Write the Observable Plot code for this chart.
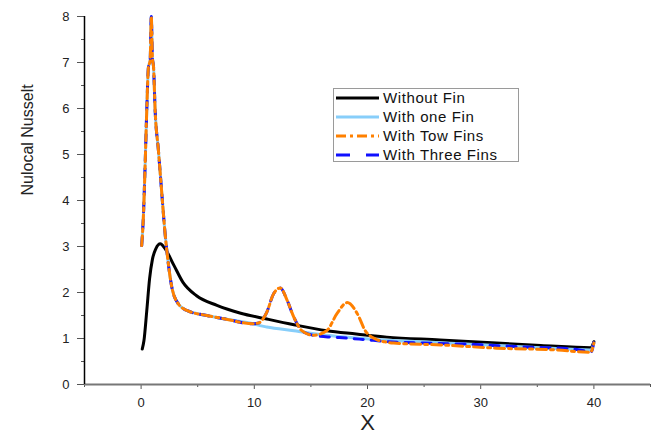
<!DOCTYPE html>
<html><head><meta charset="utf-8">
<script src="https://cdn.jsdelivr.net/npm/d3@7"></script>
<script src="https://cdn.jsdelivr.net/npm/@observablehq/plot@0.6"></script>
<style>
body{margin:0;background:#fff;}
#wrap{position:relative;width:661px;height:441px;}
#legend{position:absolute;left:333px;top:88px;width:186px;height:74px;border:1px solid #9a9a9a;background:#fff;box-sizing:border-box;}
#legend svg{overflow:visible;}
</style></head><body><div id="wrap"></div>
<script>
// ---- data ----
const seriesNames = ["Without Fin", "With one Fin", "With Tow Fins", "With Three Fins"];
const seriesColors = ["#000000", "#87cefa", "#ff8000", "#1010ff"];
const seriesDash = [null, null, "10,4,3,4", "9,8"];

const withoutX = [0.1,0.25,0.5,0.75,1.0,1.3,1.7,2.1,2.9,3.7,4.9,6.7,8.8,11,13.5,16.4,19,21.7,26.4,31.4,35.3,39.7,40];
const withoutY = [0.77,0.95,1.6,2.3,2.72,2.95,3.06,2.96,2.59,2.22,1.93,1.72,1.55,1.43,1.3,1.17,1.1,1.03,0.97,0.9,0.85,0.8,0.93];

const finStartX = [0.05,0.2,0.35,0.5,0.65,0.8,0.9,1.0,1.1,1.24,1.53,1.83,2.12,2.41,2.71,3.3,4.04,5.8,7.3,9.9];
const finStartY = [3.02,3.64,4.72,5.96,6.9,7.04,8.0,7.1,6.9,5.96,5.09,4.15,3.28,2.62,2.12,1.75,1.61,1.5,1.43,1.32];

const oneFinTailX = [10.5,11.1,13.5,16.4,19,21.7,26.4,31.4,35.3,39.7,40];
const oneFinTailY = [1.28,1.25,1.17,1.07,1.01,0.96,0.91,0.85,0.80,0.75,0.9];

const bumpX = [10.4,11.1,11.7,12.3,12.9,13.5,14.2,15.2];
const bumpY = [1.34,1.57,1.97,2.1,1.83,1.46,1.17,1.07];

const twoFinTailX = [16.4,17.3,18.2,19.1,19.8,20.7,21.7,22.3,26.5,31.4,36.8,39.7,40];
const twoFinTailY = [1.17,1.54,1.78,1.54,1.17,0.99,0.92,0.90,0.86,0.79,0.75,0.70,0.9];

const threeFinTailX = [16.8,17.5,19.6,21.9,24.9,29.5,31.1,34.4,37.9,39.8,40];
const threeFinTailY = [1.03,1.02,0.98,0.93,0.90,0.87,0.85,0.81,0.78,0.72,0.94];

const xTicks = [0,10,20,30,40];
const xMinorTicks = [-5,5,15,25,35,45];
const yTicks = [0,1,2,3,4,5,6,7,8];
const yMinorTicks = [0.5,1.5,2.5,3.5,4.5,5.5,6.5,7.5];

// ---- build tables ----
const pts = (xs, ys) => xs.map((x, i) => ({x, y: ys[i]}));
const lines = [
  pts(withoutX, withoutY),
  pts(finStartX.concat(oneFinTailX), finStartY.concat(oneFinTailY)),
  pts(finStartX.concat(bumpX, twoFinTailX), finStartY.concat(bumpY, twoFinTailY)),
  pts(finStartX.concat(bumpX, threeFinTailX), finStartY.concat(bumpY, threeFinTailY))
];
const drawOrder = [0, 1, 3, 2];

const chart = Plot.plot({
  width: 661, height: 441,
  marginLeft: 84, marginRight: 11, marginTop: 16, marginBottom: 57,
  x: {domain: [-5, 45]},
  y: {domain: [0, 8]},
  style: {fontFamily: "'Liberation Sans', Arial, sans-serif", fontSize: "13px", color: "#222", background: "#fff"},
  marks: [
    Plot.axisY({ticks: yTicks, tickSize: 7, tickPadding: 8, label: null, stroke: "#555"}),
    Plot.axisY({ticks: yMinorTicks, tickSize: 3, tickFormat: () => "", label: null, stroke: "#555"}),
    Plot.axisX({ticks: xTicks, tickSize: 5, tickPadding: 8, label: null, stroke: "#555"}),
    Plot.axisX({ticks: xMinorTicks, tickSize: 3, tickFormat: () => "", label: null, stroke: "#555"}),
    Plot.ruleY([0], {stroke: "#777", strokeWidth: 2}),
    Plot.ruleX([-5], {stroke: "#000", strokeWidth: 1.5}),
    ...drawOrder.map(i => Plot.line(lines[i], {
      x: "x", y: "y", curve: "monotone-x",
      stroke: seriesColors[i], strokeWidth: 3,
      strokeDasharray: seriesDash[i] || undefined
    })),
    Plot.text(["Nulocal Nusselt"], {text: d => d, frameAnchor: "left", rotate: -90, dx: -57, dy: -5, fontSize: 16, fill: "#222"}),
    Plot.text(["X"], {text: d => d, frameAnchor: "bottom", dy: 45, fontSize: 22, fill: "#222"})
  ]
});
const wrap = document.getElementById("wrap");
wrap.appendChild(chart);

// ---- legend ----
const leg = d3.select(wrap).append("div").attr("id", "legend");
const lsvg = leg.append("svg").attr("width", 184).attr("height", 72);
seriesNames.forEach((name, i) => {
  const y = 9 + i * 19;
  lsvg.append("line").attr("x1", 2).attr("x2", 45).attr("y1", y).attr("y2", y)
    .attr("stroke", seriesColors[i]).attr("stroke-width", 3)
    .attr("stroke-dasharray", i === 3 ? "14,16" : seriesDash[i]);
  lsvg.append("text").attr("x", 49).attr("y", y).attr("dy", "0.35em")
    .attr("font-family", "'Liberation Sans', Arial, sans-serif").attr("font-size", 15)
    .attr("letter-spacing", "0.6px").attr("fill", "#111").text(name);
});
</script>
</body></html>
